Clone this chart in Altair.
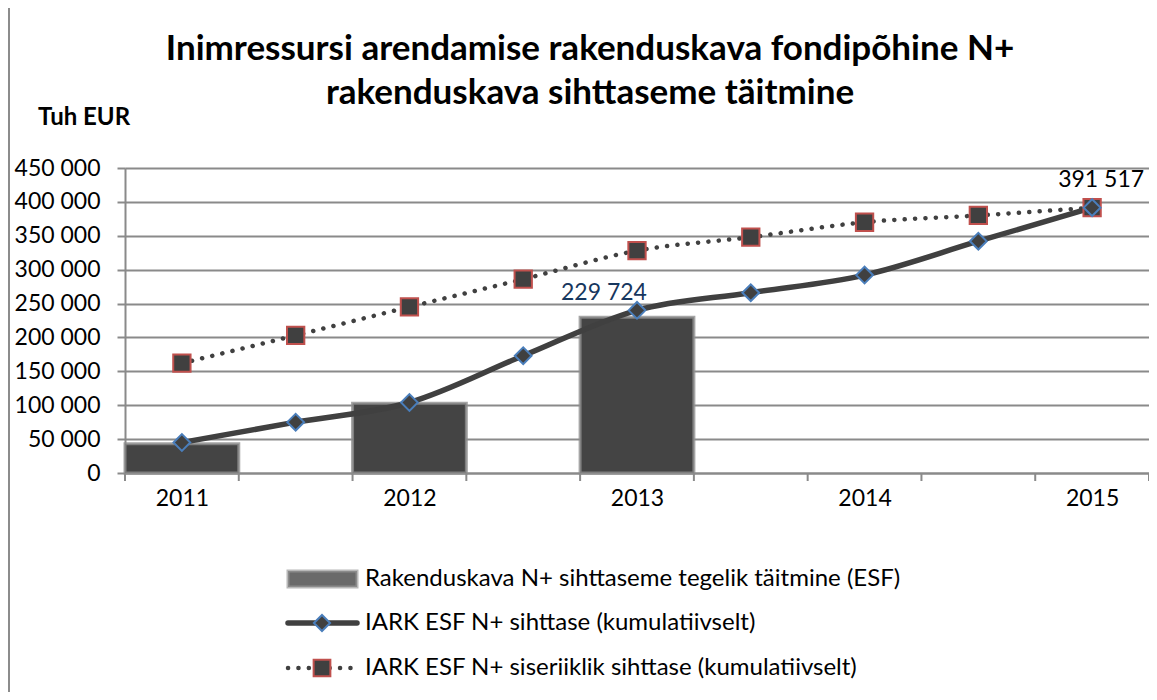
import altair as alt
import pandas as pd

# ---- data ----
periods = ["2011", "", "2012", "", "2013", "", "2014", "", "2015"]
actual = [43000, None, 103000, None, 229724, None, None, None, None]
target = [45000, 75000, 104000, 173000, 240000, 266000, 292000, 342000, 391517]
national = [162000, 203000, 245000, 286000, 328000, 348000, 370000, 380000, 391517]

series_names = [
    "Rakenduskava N+ sihttaseme tegelik täitmine (ESF)",
    "IARK ESF N+ sihttase (kumulatiivselt)",
    "IARK ESF N+ siseriiklik sihttase (kumulatiivselt)",
]
title_lines = ["Inimressursi arendamise rakenduskava fondipõhine N+",
               "rakenduskava sihttaseme täitmine"]
y_unit = "Tuh EUR"
y_ticks = list(range(0, 450001, 50000))

FONT = "Lato"
W, H = 1024, 305
GRID = "#8a8a8a"
DARK = "#404040"

def fmt(v):
    return f"{int(v):,}".replace(",", " ")

n = len(periods)
df_line = pd.DataFrame({
    "x": [i + 0.5 for i in range(n)],
    "target": target,
    "national": national,
})
df_bar = pd.DataFrame({"x0": list(range(n)), "x1": [i + 1 for i in range(n)], "v": actual}).dropna()
df_bar["xc"] = df_bar["x0"] + 0.5
df_bar["lab"] = df_bar["v"].map(fmt)
df_barlab = df_bar[df_bar["v"] == max(a for a in actual if a is not None)]
df_endlab = pd.DataFrame({"x": [n - 0.5], "v": [target[-1]], "lab": [fmt(target[-1])]})
df_bounds = pd.DataFrame({"b": list(range(n + 1))})

label_js = "[" + ",".join("'" + p + "'" for p in periods) + "]"
xscale = alt.Scale(domain=[0, n], nice=False, zero=False)
xaxis = alt.Axis(values=[i + 0.5 for i in range(n)], labelExpr=label_js + "[floor(datum.value)]",
                 ticks=False, grid=False, domainColor=GRID, domainWidth=2,
                 labelFont=FONT, labelFontSize=23, labelColor="black", labelPadding=14, title=None,
                 labelFlush=False)
yscale = alt.Scale(domain=[0, 450000], nice=False)
yaxis = alt.Axis(values=y_ticks, labelExpr="replace(format(datum.value, ','), ',', ' ')",
                 grid=True, gridColor=GRID, gridWidth=2, domainColor=GRID, domainWidth=2,
                 tickColor=GRID, tickWidth=2, tickSize=8, labelPadding=17,
                 labelFont=FONT, labelFontSize=23, labelColor="black", title=None)

def X(f):
    return alt.X(f, type="quantitative", scale=xscale, axis=xaxis)

def Y(f):
    return alt.Y(f, type="quantitative", scale=yscale, axis=yaxis)

bars = alt.Chart(df_bar).mark_rect(fill="#444444", stroke="#8f8f8f", strokeWidth=3, strokeOpacity=0.8).encode(
    x=X("x0"), x2="x1", y=Y("v"), y2=alt.datum(0))

line_nat = alt.Chart(df_line).mark_line(color=DARK, strokeWidth=4.5, strokeDash=[0.1, 10.3],
                                        strokeCap="round", interpolate="monotone").encode(
    x=X("x"), y=Y("national"))
line_tgt = alt.Chart(df_line).mark_line(color=DARK, strokeWidth=5.5, strokeCap="round",
                                        interpolate="monotone").encode(
    x=X("x"), y=Y("target"))
pts_tgt = alt.Chart(df_line).mark_point(shape="diamond", filled=True, fill=DARK, stroke="#4a7ebb",
                                        strokeWidth=2, size=280, opacity=1).encode(
    x=X("x"), y=Y("target"))
pts_nat = alt.Chart(df_line).mark_point(shape="square", filled=True, fill=DARK, stroke="#c0504d",
                                        strokeWidth=2, size=300, opacity=1).encode(
    x=X("x"), y=Y("national"))

bar_lab = alt.Chart(df_barlab).mark_text(font=FONT, fontSize=23, color="#17375e", dx=-33, dy=-17,
                                         baseline="alphabetic").encode(
    x=X("xc"), y=Y("v"), text="lab:N")
end_lab = alt.Chart(df_endlab).mark_text(font=FONT, fontSize=23, color="black", dx=9, dy=-21,
                                         baseline="alphabetic").encode(
    x=X("x"), y=Y("v"), text="lab:N")

xticks = alt.Chart(df_bounds).mark_rule(color=GRID, strokeWidth=2).encode(
    x=X("b"), y=alt.value(H), y2=alt.value(H + 8))

# frame (left and top edges of the chart box)
frame_l = alt.Chart(pd.DataFrame({"a": [0]})).mark_rule(color="#8c8c8c", strokeWidth=2).encode(
    x=alt.value(-116), y=alt.value(-161), y2=alt.value(540))
frame_t = alt.Chart(pd.DataFrame({"a": [0]})).mark_rule(color="#8c8c8c", strokeWidth=2).encode(
    x=alt.value(-117), x2=alt.value(1040), y=alt.value(-161))

title1 = alt.Chart(pd.DataFrame({"t": [title_lines[0]]})).mark_text(
    font=FONT, fontSize=35, fontWeight="bold", color="black", align="center", baseline="alphabetic").encode(
    x=alt.value(465), y=alt.value(-108), text="t:N")
title2 = alt.Chart(pd.DataFrame({"t": [title_lines[1]]})).mark_text(
    font=FONT, fontSize=35, fontWeight="bold", color="black", align="center", baseline="alphabetic").encode(
    x=alt.value(465), y=alt.value(-64), text="t:N")
unit = alt.Chart(pd.DataFrame({"t": [y_unit]})).mark_text(
    font=FONT, fontSize=24, fontWeight="bold", color="black", align="left", baseline="alphabetic").encode(
    x=alt.value(-87), y=alt.value(-43), text="t:N")

# legend
LX0, LX1, LXS, LXT = 163, 232, 197, 240
rows = [411, 455, 500]
leg = []
d1 = pd.DataFrame({"a": [0]})
leg.append(alt.Chart(d1).mark_rect(fill="#6a6a6a", stroke="#9a9a9a", strokeWidth=3, strokeOpacity=0.7).encode(
    x=alt.value(LX0), x2=alt.value(LX1), y=alt.value(rows[0] - 8), y2=alt.value(rows[0] + 8)))
leg.append(alt.Chart(d1).mark_rule(color=DARK, strokeWidth=5.5, strokeCap="round").encode(
    x=alt.value(LX0), x2=alt.value(LX1), y=alt.value(rows[1])))
leg.append(alt.Chart(d1).mark_point(shape="diamond", filled=True, fill=DARK, stroke="#4a7ebb",
                                    strokeWidth=2, size=260, opacity=1).encode(
    x=alt.value(LXS), y=alt.value(rows[1])))
leg.append(alt.Chart(d1).mark_rule(color=DARK, strokeWidth=4.5, strokeDash=[0.1, 10.3], strokeCap="round").encode(
    x=alt.value(LX0), x2=alt.value(LX1), y=alt.value(rows[2])))
leg.append(alt.Chart(d1).mark_point(shape="square", filled=True, fill=DARK, stroke="#c0504d",
                                    strokeWidth=2, size=280, opacity=1).encode(
    x=alt.value(LXS), y=alt.value(rows[2])))
for name, ry in zip(series_names, rows):
    leg.append(alt.Chart(pd.DataFrame({"t": [name]})).mark_text(
        font=FONT, fontSize=24, color="black", align="left", baseline="middle").encode(
        x=alt.value(LXT), y=alt.value(ry), text="t:N"))

chart = alt.layer(
    frame_l, frame_t, title1, title2, unit,
    bars, xticks, line_nat, line_tgt, pts_nat, pts_tgt, bar_lab, end_lab,
    *leg
).properties(
    width=W, height=H,
    autosize=alt.AutoSizeParams(type="none"),
    padding={"left": 117, "top": 160, "right": 0, "bottom": 219},
).configure_view(stroke=None).configure(background="white")

chart.save("out.html", embed_options={"renderer": "svg", "actions": False})
